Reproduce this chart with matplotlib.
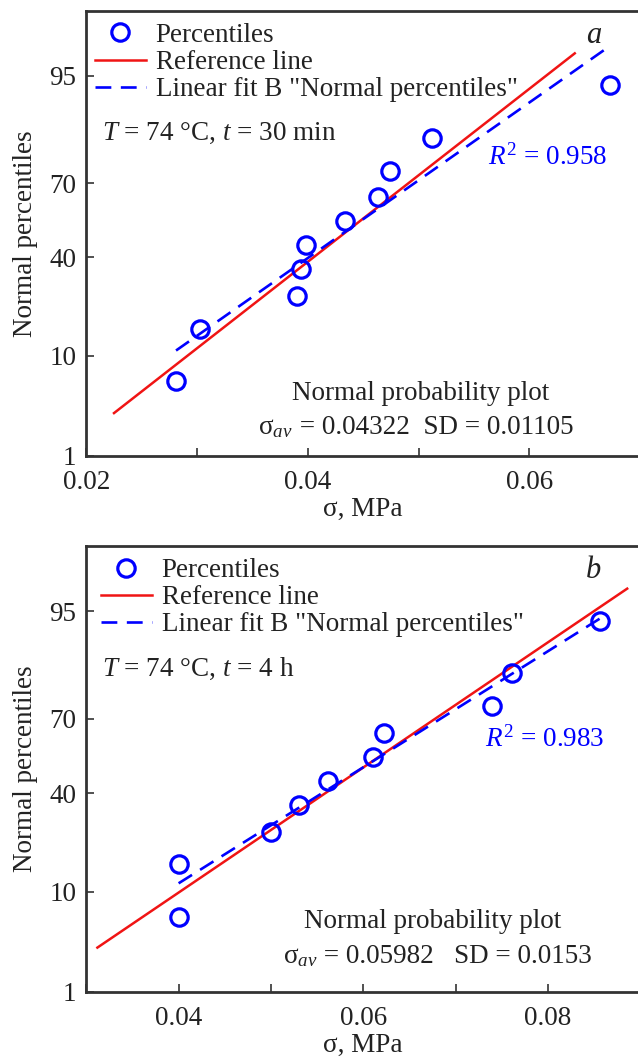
import numpy as np
import matplotlib
matplotlib.use("Agg")
import matplotlib.pyplot as plt
from matplotlib.ticker import FixedLocator, MultipleLocator, FixedFormatter
from statistics import NormalDist

plt.rcParams["font.family"] = ["Liberation Serif", "DejaVu Serif"]
plt.rcParams["mathtext.fontset"] = "custom"
plt.rcParams["mathtext.rm"] = "Liberation Serif"
plt.rcParams["mathtext.it"] = "Liberation Serif:italic"
plt.rcParams["mathtext.bf"] = "Liberation Serif:bold"

# ---------------- data ----------------
percentiles = [6.1, 15.9, 25.6, 35.4, 45.1, 54.9, 64.6, 74.4, 84.1, 93.9]

# panel a: T = 74 C, t = 30 min
sigma_a = [0.0281, 0.0303, 0.0390, 0.0394, 0.0398, 0.0434, 0.0463, 0.0474, 0.0512, 0.0673]
ref_x_a = [0.0225, 0.0641]
ref_p_a = [3.0, 97.0]
fit_x_a = [0.0281, 0.0673]
fit_p_a = [11.0, 97.5]

# panel b: T = 74 C, t = 4 h
sigma_b = [0.0400, 0.0400, 0.0500, 0.0530, 0.0562, 0.0611, 0.0623, 0.0739, 0.0761, 0.0857]
percentiles_b = [6.1, 15.9, 25.6, 35.4, 45.1, 54.9, 64.6, 74.4, 84.1, 93.9]
ref_x_b = [0.0312, 0.0886]
ref_p_b = [3.1, 97.0]
fit_x_b = [0.0400, 0.0857]
fit_p_b = [11.6, 94.2]

y_ticks = [1, 10, 40, 70, 95]

BLUE = "#0000ff"
RED = "#f01414"
TXT = "#222222"
FS = 19.5

_nd = NormalDist()
_ppf = np.vectorize(lambda v: _nd.inv_cdf(v / 100.0), otypes=[float])
_cdf = np.vectorize(lambda v: _nd.cdf(v) * 100.0, otypes=[float])


def _probit(p):
    p = np.clip(np.asarray(p, dtype=float), 1e-6, 100 - 1e-6)
    return _ppf(p)


def _inv_probit(z):
    return _cdf(np.asarray(z, dtype=float))


def draw_panel(ax, sx, sp, rx, rp, fx, fp, xlim, xmajor, cond, r2, letter,
               r2_pos, npp_pos, leg_x):
    ax.set_yscale("function", functions=(_probit, _inv_probit))
    ax.plot(rx, rp, color=RED, lw=1.8, label="Reference line", zorder=2)
    ax.plot(fx, fp, color=BLUE, lw=1.9, ls=(0, (6, 3.6)),
            label='Linear fit B "Normal percentiles"', zorder=3)
    ax.plot(sx, sp, ls="none", marker="o", ms=12.5, mfc="none", mec=BLUE, mew=2.3,
            label="Percentiles", zorder=4)

    ax.set_xlim(*xlim)
    ax.set_ylim(1, 99)
    ax.xaxis.set_major_locator(FixedLocator(xmajor))
    ax.xaxis.set_minor_locator(MultipleLocator(0.01))
    ax.yaxis.set_major_locator(FixedLocator(y_ticks))
    ax.yaxis.set_major_formatter(FixedFormatter([str(t) for t in y_ticks]))
    ax.yaxis.set_minor_locator(FixedLocator([]))
    ax.xaxis.set_major_formatter(matplotlib.ticker.FuncFormatter(lambda v, _: f"{v:.2f}"))

    ax.tick_params(which="both", direction="in", colors="#333333", labelcolor=TXT,
                   labelsize=FS, width=1.2, length=6)
    ax.tick_params(axis="x", pad=10)
    ax.tick_params(axis="y", pad=7)
    for side in ["left", "bottom", "top", "right"]:
        ax.spines[side].set_color("#333333")
        ax.spines[side].set_linewidth(2.0)

    ax.set_xlabel("σ, MPa", fontsize=FS, color=TXT, labelpad=2)
    ax.set_ylabel("Normal percentiles", fontsize=FS, color=TXT, labelpad=8)

    h, l = ax.get_legend_handles_labels()
    order = [2, 0, 1]
    ax.legend([h[i] for i in order], [l[i] for i in order], loc="upper left",
              bbox_to_anchor=(leg_x, 1.0), frameon=False, fontsize=FS,
              handlelength=1.9, handletextpad=0.35, labelspacing=0.08,
              borderpad=0.45, borderaxespad=0.0, labelcolor=TXT)

    ax.text(0.028, 0.725, cond, transform=ax.transAxes, fontsize=FS, color=TXT,
            ha="left", va="center")
    ax.text(r2_pos[0], r2_pos[1], r2, transform=ax.transAxes, fontsize=FS, color=BLUE,
            ha="left", va="center")
    ax.text(0.916, 0.945, letter, transform=ax.transAxes, fontsize=22, color=TXT,
            ha="center", va="center", style="italic")
    ax.text(npp_pos[0], npp_pos[1], "Normal probability plot", transform=ax.transAxes,
            fontsize=FS, color=TXT, ha="center", va="baseline")


def stats_line(fig, ax, x, y, rest):
    # "σ_av" in mathtext, the numbers as plain text on the same baseline
    t1 = ax.text(0, y, "σ$_{av}$", transform=ax.transAxes, fontsize=FS,
                 color=TXT, ha="left", va="baseline")
    t2 = ax.text(0, y, rest, transform=ax.transAxes, fontsize=FS,
                 color=TXT, ha="left", va="baseline")
    fig.canvas.draw()
    r = fig.canvas.get_renderer()
    w1 = t1.get_window_extent(r).width
    w2 = t2.get_window_extent(r).width
    axw = ax.bbox.width
    x0 = x - (w1 + w2) / 2 / axw
    t1.set_x(x0)
    t2.set_x(x0 + w1 / axw)


fig = plt.figure(figsize=(6.38, 10.63), dpi=100)
ax_a = fig.add_axes([0.1353, 0.5713, 0.868, 0.4186])
ax_b = fig.add_axes([0.1353, 0.0671, 0.868, 0.4193])

draw_panel(ax_a, sigma_a, percentiles, ref_x_a, ref_p_a, fit_x_a, fit_p_a,
           (0.02, 0.07), [0.02, 0.04, 0.06],
           "$T$ = 74 °C, $t$ = 30 min", "$R^2$ = 0.958", "a",
           (0.725, 0.67), (0.603, 0.125), -0.007)
draw_panel(ax_b, sigma_b, percentiles_b, ref_x_b, ref_p_b, fit_x_b, fit_p_b,
           (0.03, 0.09), [0.04, 0.06, 0.08],
           "$T$ = 74 °C, $t$ = 4 h", "$R^2$ = 0.983", "b",
           (0.72, 0.565), (0.625, 0.143), 0.004)

stats_line(fig, ax_a, 0.595, 0.049, " = 0.04322  SD = 0.01105")
stats_line(fig, ax_b, 0.634, 0.065, " = 0.05982   SD = 0.0153")

fig.savefig("out.png", dpi=100)
